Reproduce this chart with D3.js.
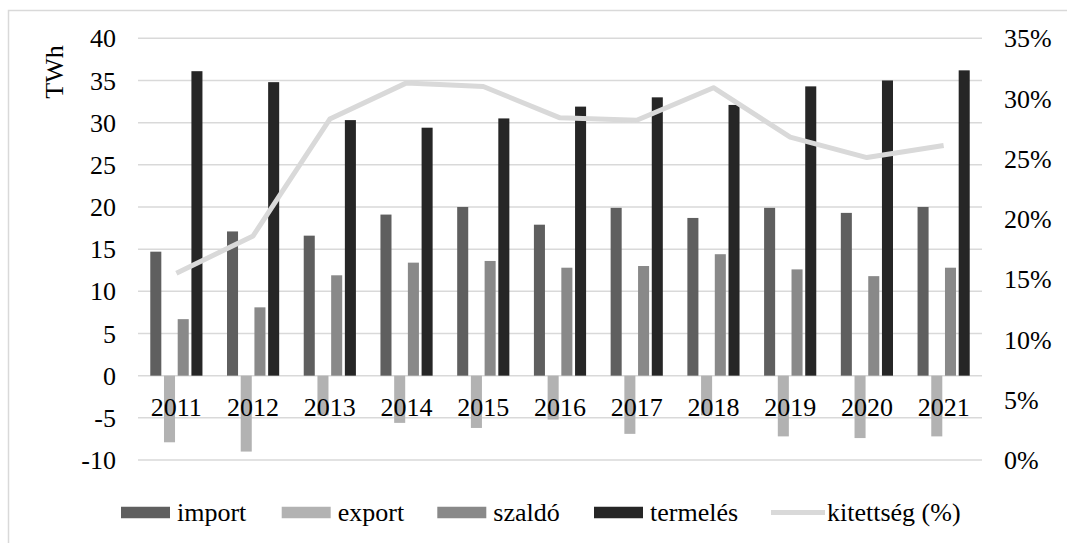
<!DOCTYPE html>
<html>
<head>
<meta charset="utf-8">
<script src="https://cdn.jsdelivr.net/npm/d3@7"></script>
<style>
  html, body { margin: 0; padding: 0; background: #fff; }
  svg { display: block; }
  text { font-family: "Liberation Serif", "Times New Roman", serif; fill: #000; }
</style>
</head>
<body>
<svg id="chart" width="1067" height="543"></svg>
<script>
// Villamosenergia import/export, szaldó és hazai termelés (TWh), valamint kitettség (%)
const years = ["2011","2012","2013","2014","2015","2016","2017","2018","2019","2020","2021"];
const importTWh   = [14.7, 17.1, 16.6, 19.1, 20.0, 17.9, 19.9, 18.7, 19.9, 19.3, 20.0];
const exportTWh   = [-7.9, -9.0, -4.7, -5.6, -6.2, -5.2, -6.9, -4.7, -7.2, -7.4, -7.2];
const szaldoTWh   = [6.7, 8.1, 11.9, 13.4, 13.6, 12.8, 13.0, 14.4, 12.6, 11.8, 12.8];
const termelesTWh = [36.1, 34.8, 30.3, 29.4, 30.5, 31.9, 33.0, 32.1, 34.3, 35.0, 36.2];
const kitettseg   = [0.155, 0.186, 0.283, 0.313, 0.310, 0.284, 0.282, 0.309, 0.268, 0.251, 0.261];

const leftTicks  = [-10, -5, 0, 5, 10, 15, 20, 25, 30, 35, 40];
const rightTicks = [0, 0.05, 0.10, 0.15, 0.20, 0.25, 0.30, 0.35];

const seriesNames = ["import", "export", "szaldó", "termelés"];
const seriesValues = [importTWh, exportTWh, szaldoTWh, termelesTWh];
const seriesColors = ["#5f5f5f", "#b2b2b2", "#898989", "#262626"];
const lineName = "kitettség (%)";
const lineColor = "#d9d9d9";
const gridColor = "#d9d9d9";

const svg = d3.select("#chart");

// outer chart frame
svg.append("rect")
  .attr("x", 8.5).attr("y", 10.5)
  .attr("width", 1100).attr("height", 600)
  .attr("fill", "none").attr("stroke", "#d9d9d9").attr("stroke-width", 1.5);

const plot = { left: 138, right: 982, top: 38.3, bottom: 460 };

const yL = d3.scaleLinear().domain([-10, 40]).range([plot.bottom, plot.top]);
const yR = d3.scaleLinear().domain([0, 0.35]).range([plot.bottom, plot.top]);
const x0 = d3.scaleBand().domain(years).range([plot.left, plot.right]).padding(0);
const bw = x0.bandwidth();
const groupW = bw * 0.68;
const x1 = d3.scaleBand().domain(seriesNames)
  .range([(bw - groupW) / 2, (bw + groupW) / 2])
  .paddingInner(0.195).paddingOuter(0);

// horizontal gridlines
svg.append("g").selectAll("line").data(leftTicks).join("line")
  .attr("x1", plot.left).attr("x2", plot.right)
  .attr("y1", d => yL(d)).attr("y2", d => yL(d))
  .attr("stroke", gridColor).attr("stroke-width", 1.5);

// left axis labels
const fs = 26;
svg.append("g").selectAll("text").data(leftTicks).join("text")
  .attr("x", 116).attr("y", d => yL(d))
  .attr("dy", "0.35em")
  .attr("text-anchor", "end")
  .attr("font-size", fs)
  .text(d => d);

// right axis labels
const pct = d3.format(".0%");
svg.append("g").selectAll("text").data(rightTicks).join("text")
  .attr("x", 1004).attr("y", d => yR(d))
  .attr("dy", "0.35em")
  .attr("text-anchor", "start")
  .attr("font-size", fs)
  .text(d => pct(d));

// axis title
svg.append("text")
  .attr("transform", `translate(63,72) rotate(-90)`)
  .attr("text-anchor", "middle")
  .attr("font-size", fs)
  .text("TWh");

// bars
const barGroups = svg.append("g").selectAll("g").data(years).join("g")
  .attr("transform", d => `translate(${x0(d)},0)`);

barGroups.selectAll("rect")
  .data((yr, i) => seriesNames.map((s, k) => ({ s, k, v: seriesValues[k][i] })))
  .join("rect")
  .attr("x", d => x1(d.s))
  .attr("width", x1.bandwidth())
  .attr("y", d => yL(Math.max(0, d.v)))
  .attr("height", d => Math.abs(yL(d.v) - yL(0)))
  .attr("fill", d => seriesColors[d.k]);

// kitettség line on the secondary axis
const line = d3.line()
  .x((d, i) => x0(years[i]) + bw / 2)
  .y(d => yR(d));
svg.append("path")
  .datum(kitettseg)
  .attr("d", line)
  .attr("fill", "none")
  .attr("stroke", lineColor)
  .attr("stroke-width", 5)
  .attr("stroke-linejoin", "round");

// category labels (drawn on top of the bars)
svg.append("g").selectAll("text").data(years).join("text")
  .attr("x", d => x0(d) + bw / 2)
  .attr("y", 416)
  .attr("text-anchor", "middle")
  .attr("font-size", fs)
  .text(d => d);

// legend
const legendY = 512.5;
const legendX = [121, 281.7, 437.3, 594];
const swW = 49, swH = 11.5;
const lg = svg.append("g");
seriesNames.forEach((s, k) => {
  lg.append("rect")
    .attr("x", legendX[k]).attr("y", legendY - swH / 2)
    .attr("width", swW).attr("height", swH)
    .attr("fill", seriesColors[k]);
  lg.append("text")
    .attr("x", legendX[k] + swW + 7).attr("y", legendY)
    .attr("dy", "0.33em")
    .attr("font-size", fs)
    .text(s);
});
lg.append("line")
  .attr("x1", 771).attr("x2", 825)
  .attr("y1", legendY).attr("y2", legendY)
  .attr("stroke", lineColor).attr("stroke-width", 5);
lg.append("text")
  .attr("x", 827).attr("y", legendY)
  .attr("dy", "0.33em")
  .attr("font-size", fs)
  .text(lineName);
</script>
</body>
</html>
